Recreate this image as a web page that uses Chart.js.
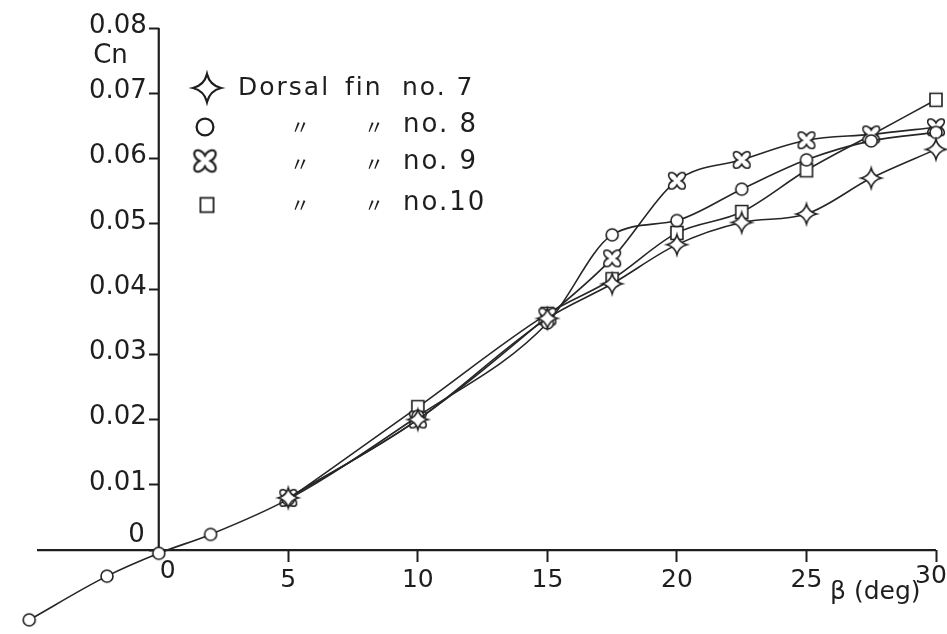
<!DOCTYPE html>
<html>
<head>
<meta charset="utf-8">
<script src="https://cdn.jsdelivr.net/npm/chart.js@4.4.0/dist/chart.umd.min.js"></script>
<style>
  html, body { margin: 0; padding: 0; background: #fff; }
  #wrap { width: 947px; height: 634px; position: relative; }
</style>
</head>
<body>
<div id="wrap"><canvas id="cnChart"></canvas></div>
<script>
// sideslip angle (deg)
const betaLong = [-5, -2, 0, 2, 5, 10, 15, 17.5, 20, 22.5, 25, 27.5, 30];
const betaShort = [5, 10, 15, 17.5, 20, 22.5, 25, 27.5, 30];

// Cn for each dorsal fin
const finNo7 = [0.0080, 0.0200, 0.0355, 0.0408, 0.0468, 0.0502, 0.0515, 0.0570, 0.0614];
const finNo8 = [-0.0107, -0.0040, -0.0005, 0.0024, 0.0078, 0.0205, 0.0348, 0.0483, 0.0505, 0.0553, 0.0598, 0.0627, 0.0640];
const finNo9 = [0.0080, 0.0200, 0.0358, 0.0447, 0.0566, 0.0598, 0.0628, 0.0637, 0.0648];
const finNo10 = [0.0078, 0.0219, 0.0362, 0.0415, 0.0486, 0.0518, 0.0582, 0.0636, 0.0690];

const xTicks = [0, 5, 10, 15, 20, 25, 30];
const yTicks = [0, 0.01, 0.02, 0.03, 0.04, 0.05, 0.06, 0.07, 0.08];
const yTickLabels = ["0", "0.01", "0.02", "0.03", "0.04", "0.05", "0.06", "0.07", "0.08"];

const legendNames = ["no. 7", "no. 8", "no. 9", "no.10"];

const INK = "#1e1e1e";
const FONT = "\"DejaVu Sans\", \"Noto Sans\", sans-serif";

function makeMarker(kind, k) {
    const s = Math.ceil(28 * k);
    const c = document.createElement("canvas");
    c.width = s;
    c.height = s;
    const g = c.getContext("2d");
    g.translate(s / 2, s / 2);
    g.scale(k, k);
    g.lineWidth = 1.6;
    g.strokeStyle = INK;
    g.fillStyle = "#fff";

    if (kind === "star") {
        g.beginPath();
        g.moveTo(0, -10);
        g.quadraticCurveTo(2, -2, 10, 0);
        g.quadraticCurveTo(2, 2, 0, 10);
        g.quadraticCurveTo(-2, 2, -10, 0);
        g.quadraticCurveTo(-2, -2, 0, -10);
        g.closePath();
        g.fill();
        g.stroke();
    } else if (kind === "circle") {
        g.beginPath();
        g.arc(0, 0, 6, 0, Math.PI * 2);
        g.fill();
        g.stroke();
    } else if (kind === "square") {
        g.beginPath();
        g.rect(-6, -6.5, 12, 13);
        g.fill();
        g.stroke();
    } else if (kind === "cross") {
        const lobes = (shrink) => {
            for (let i = 0; i < 4; i++) {
                const a = Math.PI / 4 + i * Math.PI / 2;
                g.beginPath();
                g.ellipse(Math.cos(a) * 5.5, Math.sin(a) * 5.5,
                    6 - shrink, 4.3 - shrink, a, 0, Math.PI * 2);
                g.fill();
            }
            g.beginPath();
            g.arc(0, 0, 3.8 - shrink * 0.5, 0, Math.PI * 2);
            g.fill();
        };
        g.fillStyle = INK;
        lobes(0);
        g.fillStyle = "#fff";
        lobes(1.7);
    }
    return c;
}

const markers = [
    makeMarker("star", 1),
    makeMarker("circle", 1),
    makeMarker("cross", 1),
    makeMarker("square", 1)
];
const legendMarkers = [
    makeMarker("star", 1.4),
    makeMarker("circle", 1.4),
    makeMarker("cross", 1.3),
    makeMarker("square", 1.1)
];

function toPoints(xs, ys) {
    return xs.map((b, i) => ({ x: b, y: ys[i] }));
}

// axis lines, y labels and hand-lettered extras
const axisExtras = {
    id: "axisExtras",
    beforeDatasetsDraw(chart) {
        const { ctx, scales: { x, y } } = chart;
        const x0 = x.getPixelForValue(0);
        const y0 = y.getPixelForValue(0);
        ctx.save();
        ctx.strokeStyle = INK;
        ctx.lineWidth = 2.2;
        ctx.beginPath();
        ctx.moveTo(x.left, y0);
        ctx.lineTo(x.getPixelForValue(30), y0);
        ctx.moveTo(x0, y0);
        ctx.lineTo(x0, y.getPixelForValue(0.08));
        ctx.stroke();

        ctx.fillStyle = INK;
        ctx.textBaseline = "middle";
        ctx.textAlign = "right";
        ctx.font = "26px " + FONT;
        yTicks.forEach((v, i) => {
            if (i === 0) return;
            ctx.fillText(yTickLabels[i], x0 - 12, y.getPixelForValue(v) - 2);
        });
        ctx.fillText("Cn", x0 - 31, y.getPixelForValue(0.0757));
        ctx.fillText(yTickLabels[0], x0 - 14, y0 - 15);
        ctx.textAlign = "center";
        ctx.font = "25px " + FONT;
        ctx.fillText("0", x0 + 9, y0 + 21);
        ctx.fillText("30", x.getPixelForValue(30) - 5, y0 + 26);
        ctx.textAlign = "left";
        ctx.fillText("\u03b2 (deg)", x.getPixelForValue(30) - 106, y0 + 42);
        ctx.restore();
    },
    afterDatasetsDraw(chart) {
        const { ctx } = chart;
        const rows = [
            { mx: 207, my: 88, ty: 88 },
            { mx: 205, my: 127, ty: 125 },
            { mx: 205, my: 161, ty: 162 },
            { mx: 207, my: 205, ty: 203 }
        ];
        ctx.save();
        ctx.fillStyle = INK;
        ctx.textBaseline = "middle";
        ctx.textAlign = "left";
        if ("letterSpacing" in ctx) ctx.letterSpacing = "2px";
        rows.forEach((r, i) => {
            const m = legendMarkers[i];
            ctx.drawImage(m, r.mx - m.width / 2, r.my - m.height / 2);
            if (i === 0) {
                ctx.font = "25px " + FONT;
                ctx.fillText("Dorsal", 238, r.ty);
                ctx.fillText("fin", 345, r.ty);
                ctx.fillText(legendNames[i], 402, r.ty);
            } else {
                ctx.font = "20px \"Noto Sans CJK JP\", " + FONT;
                ctx.fillText("\u3003", 290, r.ty + 2);
                ctx.fillText("\u3003", 364, r.ty + 2);
                ctx.font = "26px " + FONT;
                ctx.fillText(legendNames[i], 403, r.ty);
            }
        });
        ctx.restore();
    }
};

const lineStyle = {
    borderColor: "#262626",
    borderWidth: 1.6,
    cubicInterpolationMode: "monotone",
    pointRadius: 8,
    pointHoverRadius: 8,
    clip: false
};

new Chart(document.getElementById("cnChart"), {
    type: "line",
    data: {
        datasets: [
            { ...lineStyle, label: "Dorsal fin no. 7", data: toPoints(betaShort, finNo7), pointStyle: markers[0] },
            { ...lineStyle, label: "Dorsal fin no. 8", data: toPoints(betaLong, finNo8), pointStyle: markers[1] },
            { ...lineStyle, label: "Dorsal fin no. 9", data: toPoints(betaShort, finNo9), pointStyle: markers[2] },
            { ...lineStyle, label: "Dorsal fin no. 10", data: toPoints(betaShort, finNo10), pointStyle: markers[3] }
        ]
    },
    options: {
        responsive: true,
        maintainAspectRatio: false,
        animation: false,
        layout: {
            padding: { left: 37, right: 11, top: 28, bottom: 20 }
        },
        plugins: {
            legend: { display: false },
            tooltip: { enabled: false }
        },
        scales: {
            x: {
                type: "linear",
                position: { y: 0 },
                min: -4.7,
                max: 30,
                afterBuildTicks: (scale) => {
                    scale.ticks = xTicks.map((v) => ({ value: v }));
                },
                border: { display: false },
                grid: {
                    drawOnChartArea: false,
                    drawTicks: true,
                    tickLength: 12,
                    tickWidth: 2,
                    tickColor: (c) => (c.tick && c.tick.value === 0 ? "rgba(0,0,0,0)" : INK)
                },
                ticks: {
                    padding: 3,
                    color: INK,
                    font: { family: FONT, size: 25 },
                    callback: (v) => (v === 0 || v === 30 ? "" : String(v))
                }
            },
            y: {
                type: "linear",
                position: { x: 0 },
                min: -0.0098,
                max: 0.08,
                afterBuildTicks: (scale) => {
                    scale.ticks = yTicks.map((v) => ({ value: v }));
                },
                border: { display: false },
                grid: {
                    drawOnChartArea: false,
                    drawTicks: true,
                    tickLength: 10,
                    tickWidth: 2,
                    tickColor: INK
                },
                ticks: { display: false }
            }
        }
    },
    plugins: [axisExtras]
});
</script>
</body>
</html>
